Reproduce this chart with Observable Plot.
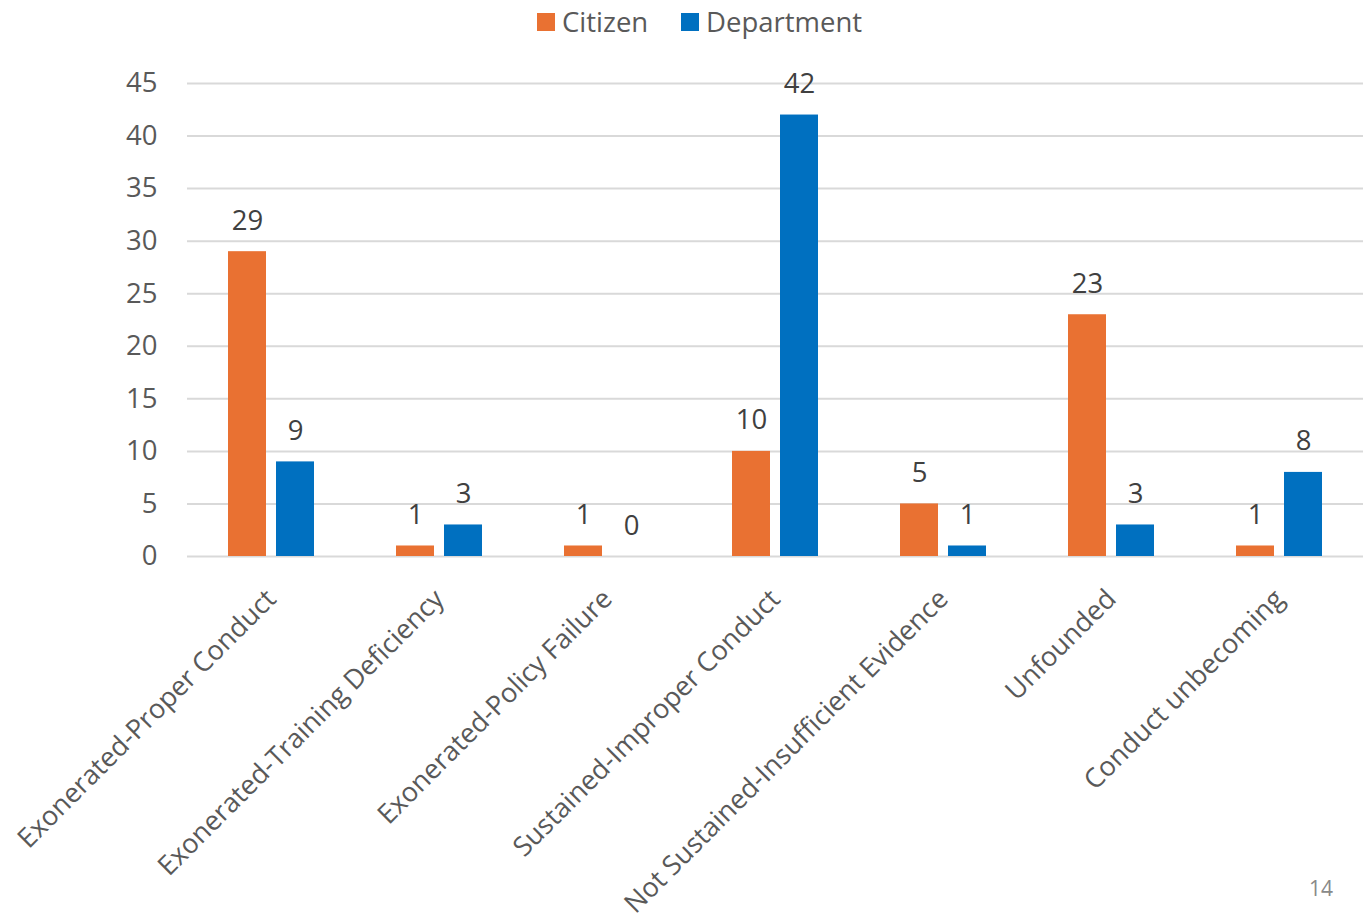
<!DOCTYPE html>
<html>
<head>
<meta charset="utf-8">
<script src="https://cdn.jsdelivr.net/npm/d3@7"></script>
<script src="https://cdn.jsdelivr.net/npm/@observablehq/plot@0.6"></script>
<style>
  body { margin: 0; background: #fff; font-family: "Open Sans", sans-serif; }
  #wrap { position: relative; width: 1370px; height: 924px; }
  #legend { position: absolute; left: 0; top: 0; width: 1370px; height: 45px; }
  .sw { position: absolute; top: 13px; width: 18px; height: 18px; }
  .lt { position: absolute; top: 3px; font-size: 27.5px; color: #595959; line-height: 38px; }
  #chart { position: absolute; left: 0; top: 45px; }
  #chart svg { overflow: visible; }
  #page { position: absolute; left: 1309px; top: 874px; font-size: 21px; color: #898989; }
</style>
</head>
<body>
<div id="wrap">
  <div id="legend">
    <div class="sw" style="left:537px;background:#E97132"></div>
    <div class="lt" style="left:562px">Citizen</div>
    <div class="sw" style="left:681px;background:#0070C0"></div>
    <div class="lt" style="left:706px">Department</div>
  </div>
  <div id="chart"></div>
  <div id="page">14</div>
</div>
<script>
const categories = [
  "Exonerated-Proper Conduct",
  "Exonerated-Training Deficiency",
  "Exonerated-Policy Failure",
  "Sustained-Improper Conduct",
  "Not Sustained-Insufficient Evidence",
  "Unfounded",
  "Conduct unbecoming"
];
const seriesNames = ["Citizen", "Department"];
const citizen = [29, 1, 1, 10, 5, 23, 1];
const department = [9, 3, 0, 42, 1, 3, 8];
const colors = ["#E97132", "#0070C0"];
const yTicks = [0, 5, 10, 15, 20, 25, 30, 35, 40, 45];

const data = [];
categories.forEach((c, i) => {
  data.push({category: c, series: seriesNames[0], value: citizen[i]});
  data.push({category: c, series: seriesNames[1], value: department[i]});
});

const chart = Plot.plot({
  width: 1370,
  height: 879,
  marginTop: 38,
  marginBottom: 368,
  marginLeft: 185,
  marginRight: 6,
  style: {fontFamily: "Open Sans, sans-serif", fontSize: "27.5px", color: "#595959", background: "#fff"},
  fx: {domain: categories, padding: 0, label: null},
  x: {domain: seriesNames, paddingInner: 0.2, paddingOuter: 0.85, axis: null},
  y: {domain: [0, 45], ticks: yTicks, label: null},
  color: {domain: seriesNames, range: colors},
  marks: [
    Plot.ruleY(yTicks, {stroke: "#d9d9d9", strokeWidth: 2}),
    Plot.axisY({ticks: yTicks, tickSize: 0, tickPadding: 30, fontSize: 27.5, fill: "#595959"}),
    Plot.axisFx({anchor: "bottom", tickRotate: -45, tickSize: 0, tickPadding: 38, fontSize: 27, fill: "#595959", label: null}),
    Plot.barY(data, {fx: "category", x: "series", y: "value", fill: "series"}),
    Plot.text(data, {fx: "category", x: "series", y: "value", text: d => String(d.value),
      lineAnchor: "bottom", dy: -22, fill: "#404040", fontSize: 27.5})
  ]
});
document.getElementById("chart").appendChild(chart);
</script>
</body>
</html>
